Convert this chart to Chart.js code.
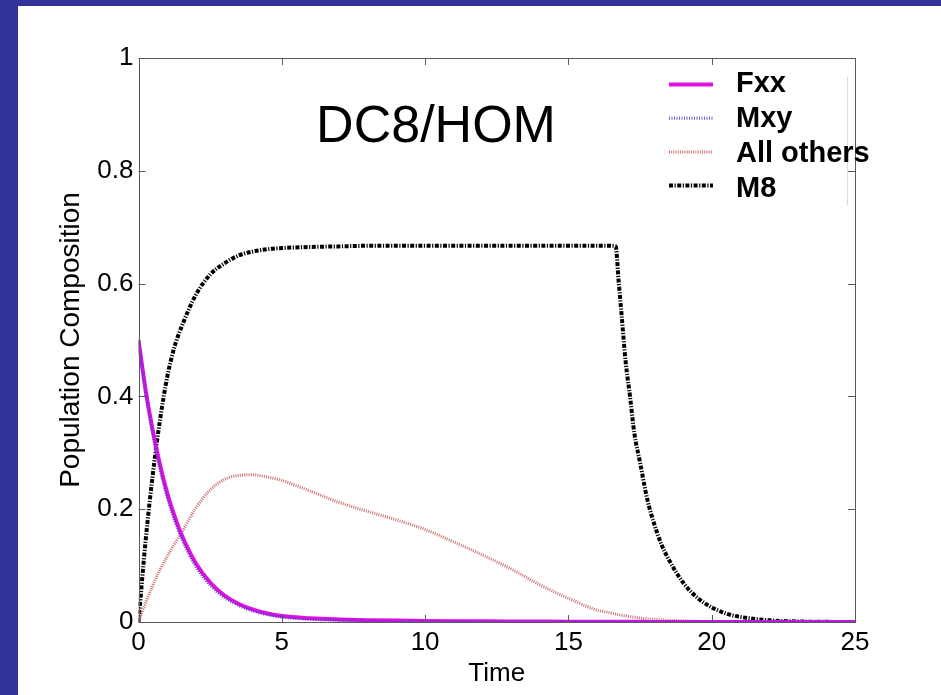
<!DOCTYPE html>
<html><head><meta charset="utf-8">
<script src="https://cdn.jsdelivr.net/npm/chart.js@4.4.0/dist/chart.umd.min.js"></script>
<style>
html,body{margin:0;padding:0;background:#fff;width:941px;height:695px;overflow:hidden}
.bandTop{position:absolute;left:0;top:0;width:941px;height:6px;background:#333399}
.bandLeft{position:absolute;left:0;top:0;width:18px;height:695px;background:#333399}
#wrap{position:absolute;left:0;top:0;width:941px;height:695px}
</style></head><body>
<div class="bandTop"></div><div class="bandLeft"></div>
<div id="wrap"><canvas id="c" width="941" height="695"></canvas></div>
<script>
const time = [0,0.25,0.5,0.75,1,1.25,1.5,2,2.5,3,3.5,4,4.5,5,6,7,8,9,10,11,12,13,14,15,16,16.5,16.65,16.75,16.85,17,17.15,17.3,17.5,17.75,18,18.25,18.5,19,19.5,20,20.5,21,22,23,24,25];
const fxx = [0.5,0.411,0.339,0.279,0.229,0.189,0.155,0.104,0.07,0.047,0.032,0.022,0.015,0.0105,0.0065,0.0045,0.0033,0.0025,0.0019,0.0015,0.0012,0.001,0.0008,0.0006,0.0005,0.0004,0.0004,0.0004,0.0004,0.0003,0.0003,0.0003,0.0003,0.0002,0.0002,0.0002,0.0002,0.0001,0.0001,0.0001,0.0001,0,0,0,0,0];
const mxy = [0.5,0.404,0.331,0.27,0.221,0.181,0.148,0.098,0.065,0.043,0.029,0.019,0.013,0.0085,0.0045,0.0028,0.0019,0.0014,0.001,0.0008,0.0006,0.0005,0.0004,0.0003,0.0002,0.0002,0.0002,0.0002,0.0002,0.0002,0.0001,0.0001,0.0001,0.0001,0.0001,0.0001,0.0001,0,0,0,0,0,0,0,0,0];
const allOthers = [0,0.034,0.065,0.093,0.116,0.138,0.158,0.202,0.234,0.253,0.26,0.261,0.257,0.251,0.232,0.212,0.196,0.181,0.164,0.142,0.119,0.094,0.066,0.042,0.021,0.016,0.014,0.013,0.012,0.011,0.0095,0.0085,0.007,0.0055,0.0045,0.0037,0.003,0.002,0.0012,0.0006,0.0003,0.0002,0,0,0,0];
const m8 = [0,0.145,0.262,0.358,0.434,0.487,0.523,0.58,0.616,0.636,0.65,0.657,0.661,0.663,0.665,0.666,0.667,0.667,0.667,0.667,0.667,0.667,0.667,0.667,0.667,0.667,0.666,0.606,0.548,0.46,0.40,0.335,0.283,0.218,0.173,0.137,0.111,0.07,0.043,0.026,0.015,0.009,0.003,0.001,0.0003,0];
const seriesNames = ['Fxx','Mxy','All others','M8'];
const xTickLabels = ['0','5','10','15','20','25'];
const yTickLabels = ['0','0.2','0.4','0.6','0.8','1'];
const chartTitle = 'DC8/HOM';
const xTitle = 'Time';
const yTitle = 'Population Composition';

const FONT = "'Liberation Sans', Arial, Helvetica, sans-serif";
const styles = [
  {color:'#e010e0', width:4, dash:[], order:1},
  {color:'rgba(80,60,200,0.85)', width:3, dash:[1,1.5], order:0},
  {color:'#cc7070', width:3, dash:[1,1.2], order:2},
  {color:'#000000', width:4, dash:[4,1.5,1.2,1.5], order:3}
];
const values = [fxx, mxy, allOthers, m8];
const datasets = seriesNames.map((n,k)=>({
  label:n,
  data: time.map((t,i)=>({x:t, y:values[k][i]})),
  borderColor: styles[k].color,
  borderWidth: styles[k].width,
  borderDash: styles[k].dash,
  order: styles[k].order,
  pointRadius:0,
  fill:false,
  cubicInterpolationMode:'monotone',
  borderCapStyle:'butt'
}));

const decor = {
  id:'decor',
  afterDraw(chart){
    const {ctx, chartArea:a, scales:{x,y}} = chart;
    ctx.save();
    ctx.strokeStyle='#5a5a5a'; ctx.lineWidth=1; ctx.setLineDash([]);
    ctx.strokeRect(Math.round(a.left)+0.5, Math.round(a.top)+0.5, Math.round(a.right)-Math.round(a.left), Math.round(a.bottom)-Math.round(a.top));
    const L=7;
    ctx.beginPath();
    x.ticks.forEach(t=>{
      const px=Math.round(x.getPixelForValue(t.value))+0.5;
      ctx.moveTo(px,a.bottom); ctx.lineTo(px,a.bottom-L);
      ctx.moveTo(px,a.top); ctx.lineTo(px,a.top+L);
    });
    y.ticks.forEach(t=>{
      const py=Math.round(y.getPixelForValue(t.value))+0.5;
      ctx.moveTo(a.left,py); ctx.lineTo(a.left+L,py);
      ctx.moveTo(a.right,py); ctx.lineTo(a.right-L,py);
    });
    ctx.stroke();
    ctx.fillStyle='#000';
    ctx.font='52px '+FONT;
    ctx.textAlign='center'; ctx.textBaseline='alphabetic';
    ctx.fillText(chartTitle, 436, 142);
    ctx.strokeStyle='#dcdcdc'; ctx.lineWidth=1;
    ctx.beginPath(); ctx.moveTo(847.5,77); ctx.lineTo(847.5,205); ctx.stroke();
    ctx.font='bold 29px '+FONT;
    ctx.textAlign='left';
    [0,1,2,3].forEach((k,i)=>{
      const ly = 84.5 + 33.7*i;
      ctx.strokeStyle=styles[k].color; ctx.lineWidth=styles[k].width;
      ctx.setLineDash(styles[k].dash);
      ctx.beginPath(); ctx.moveTo(669,ly); ctx.lineTo(713,ly); ctx.stroke();
      ctx.setLineDash([]);
      ctx.fillStyle='#000';
      ctx.fillText(seriesNames[k], 736, 92 + 35*i);
    });
    ctx.restore();
  }
};

new Chart(document.getElementById('c'), {
  type:'line',
  data:{datasets},
  plugins:[decor],
  options:{
    responsive:false, animation:false,
    layout:{padding:{left:50, top:58, right:86, bottom:0}},
    plugins:{legend:{display:false}, tooltip:{enabled:false}},
    scales:{
      x:{
        type:'linear', min:0, max:25,
        afterFit(s){ s.height = 73; },
        ticks:{stepSize:5, color:'#000', font:{family:FONT, size:26}, padding:5, maxRotation:0,
          callback:(v,i)=>xTickLabels[i]},
        grid:{display:false, drawTicks:false},
        border:{display:false},
        title:{display:true, text:xTitle, color:'#000', font:{family:FONT, size:26}, padding:{top:0,bottom:6}}
      },
      y:{
        type:'linear', min:0, max:1,
        afterFit(s){ s.width = 88.5; },
        ticks:{stepSize:0.2, color:'#000', font:{family:FONT, size:26}, padding:5,
          callback:(v,i)=>yTickLabels[i]},
        grid:{display:false, drawTicks:false},
        border:{display:false},
        title:{display:true, text:yTitle, color:'#000', font:{family:FONT, size:28}, padding:{top:4,bottom:0}}
      }
    }
  }
});
</script>
</body></html>
